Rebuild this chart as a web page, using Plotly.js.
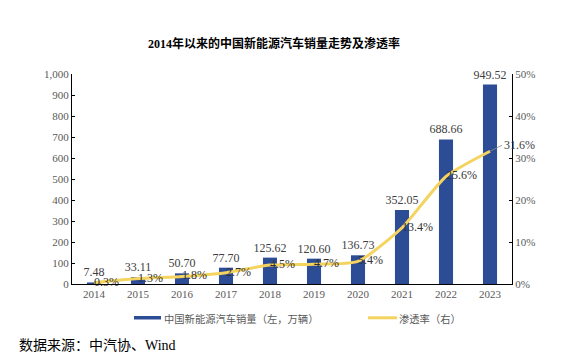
<!DOCTYPE html>
<html>
<head>
<meta charset="utf-8">
<script src="https://cdn.plot.ly/plotly-3.0.1.min.js"></script>
<style>html,body{margin:0;padding:0;background:#fff;}#chart{width:561px;height:364px;}</style>
</head>
<body>
<div id="chart"></div>
<script>
const years = ['2014','2015','2016','2017','2018','2019','2020','2021','2022','2023'];
const sales = [7.48, 33.11, 50.70, 77.70, 125.62, 120.60, 136.73, 352.05, 688.66, 949.52];
const penetration = [0.3, 1.3, 1.8, 2.7, 4.5, 4.7, 5.4, 13.4, 25.6, 31.6];
const salesName = '中国新能源汽车销量（左，万辆）';
const penName = '渗透率（右）';
const titleText = '2014年以来的中国新能源汽车销量走势及渗透率';
const sourceText = '数据来源：中汽协、Wind';

const barColor = '#2C4C96';
const lineColor = '#F4D35E';
const serif = 'Liberation Serif, Noto Sans CJK SC, serif';
const cjk = 'Noto Sans CJK SC, sans-serif';

// pixel -> paper helpers (plot area: x 72..512, y 74..284)
const px = v => (v - 72) / 440;
const py = v => (284 - v) / 210;

const lastIdx = years.length - 1;
const penLabels = penetration.map((v, i) => i === lastIdx ? '' : v.toFixed(1) + '%');

const traces = [
  {
    type: 'bar', x: years, y: sales, name: salesName, showlegend: false,
    marker: {color: barColor}, width: 0.32,
    text: sales.map(v => v.toFixed(2)), textposition: 'outside', cliponaxis: false,
    constraintext: 'none',
    textfont: {family: serif, size: 12, color: '#404040'},
    hoverinfo: 'x+y'
  },
  {
    type: 'scatter', mode: 'lines', x: years, y: penetration, yaxis: 'y2',
    name: penName, showlegend: false, cliponaxis: false,
    line: {color: lineColor, width: 3, shape: 'spline', smoothing: 0.6}
  },
  {
    type: 'scatter', mode: 'text', x: years, y: penetration, yaxis: 'y2',
    name: penName, showlegend: false, hoverinfo: 'skip',
    text: penLabels, textposition: 'middle right', cliponaxis: false,
    textfont: {family: serif, size: 12, color: '#333333'}
  }
];

const layout = {
  width: 561, height: 364,
  margin: {l: 72, r: 49, t: 74, b: 80},
  paper_bgcolor: '#fff', plot_bgcolor: '#fff',
  showlegend: false,
  title: {text: '<b>' + titleText + '</b>', font: {family: serif, size: 12, color: '#000'},
          x: px(274), xanchor: 'center', y: 1 - 44/364, yanchor: 'middle', xref: 'paper'},
  xaxis: {
    type: 'category', range: [-0.5, years.length - 0.5], autorange: false,
    showgrid: false, zeroline: false,
    showline: true, linecolor: '#000', linewidth: 1, ticks: '',
    tickfont: {family: serif, size: 11, color: '#595959'}
  },
  yaxis: {
    range: [0, 1000], autorange: false, dtick: 100, tickformat: ',', showgrid: false, zeroline: false,
    showline: true, linecolor: '#000', linewidth: 1, ticks: 'inside', ticklen: 3, tickcolor: '#000',
    tickfont: {family: serif, size: 11, color: '#595959'}
  },
  yaxis2: {
    overlaying: 'y', side: 'right', range: [0, 50], autorange: false, dtick: 10, ticksuffix: '%',
    showgrid: false, zeroline: false,
    showline: true, linecolor: '#000', linewidth: 1, ticks: 'inside', ticklen: 3, tickcolor: '#000',
    tickfont: {family: serif, size: 11, color: '#595959'}
  },
  shapes: [
    {type: 'rect', xref: 'paper', yref: 'paper', x0: px(134), x1: px(161), y0: py(319.5), y1: py(316),
     fillcolor: barColor, line: {width: 0}},
    {type: 'line', xref: 'paper', yref: 'paper', x0: px(368), x1: px(397), y0: py(317.8), y1: py(317.8),
     line: {color: lineColor, width: 3}}
  ],
  annotations: [
    {text: penetration[lastIdx].toFixed(1) + '%', x: lastIdx, y: penetration[lastIdx],
     xref: 'x', yref: 'y2', showarrow: true, arrowhead: 0, arrowwidth: 0.8, arrowcolor: '#8a8a8a',
     ax: 12, ay: -6, xanchor: 'left', yanchor: 'middle',
     font: {family: serif, size: 12, color: '#404040'}},
    {text: salesName, xref: 'paper', yref: 'paper', x: px(162), y: py(318),
     xanchor: 'left', yanchor: 'middle', showarrow: false,
     font: {family: cjk, size: 10.3, color: '#595959'}},
    {text: penName, xref: 'paper', yref: 'paper', x: px(397), y: py(318),
     xanchor: 'left', yanchor: 'middle', showarrow: false,
     font: {family: cjk, size: 10.3, color: '#595959'}},
    {text: sourceText, xref: 'paper', yref: 'paper', x: px(17), y: py(345),
     xanchor: 'left', yanchor: 'middle', showarrow: false,
     font: {family: serif, size: 14, color: '#000'}}
  ]
};

Plotly.newPlot('chart', traces, layout, {displayModeBar: false, staticPlot: true});
</script>
</body>
</html>
